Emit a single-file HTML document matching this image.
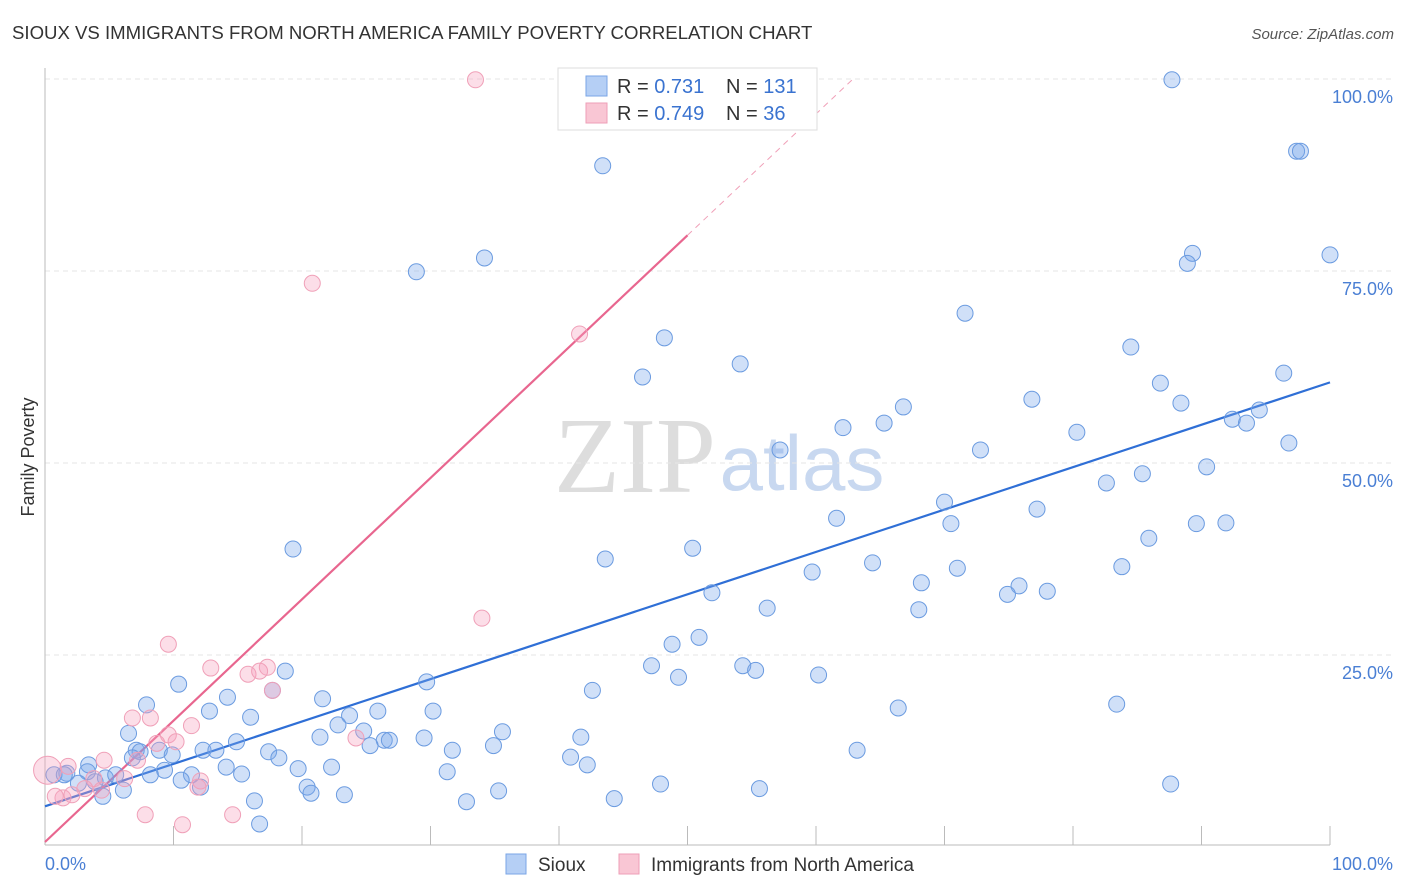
<!DOCTYPE html>
<html><head><meta charset="utf-8"><style>
body{margin:0;background:#fff;font-family:"Liberation Sans",sans-serif;}
svg{display:block}
</style></head><body>
<svg id="chart" width="1406" height="892">
<text x="12" y="39" font-size="18.6" fill="#333">SIOUX VS IMMIGRANTS FROM NORTH AMERICA FAMILY POVERTY CORRELATION CHART</text>
<text x="1394" y="39" font-size="15" fill="#555" font-style="italic" text-anchor="end">Source: ZipAtlas.com</text>
<g>
<text x="635" y="492" font-size="108" fill="#ddd" font-family="Liberation Serif,serif" text-anchor="middle">ZIP</text>
<text x="802" y="490" font-size="78" fill="#c8d8f0" text-anchor="middle">atlas</text>
</g>
<g id="grid"></g><g id="axes"></g><g id="trend"></g><g id="pts"></g>
<text transform="translate(34,457) rotate(-90)" font-size="18" fill="#333" text-anchor="middle">Family Poverty</text>
<text x="45" y="870" font-size="18" fill="#4a7fd4">0.0%</text>
<text x="1393" y="870" font-size="18" fill="#4a7fd4" text-anchor="end">100.0%</text>
<g>
<rect x="558" y="68" width="259" height="62" fill="#fff" stroke="#ddd"/>
<rect x="586" y="76" width="21" height="20" fill="#b5cff5" stroke="#7aa5e6"/>
<rect x="586" y="103" width="21" height="20" fill="#f9c6d4" stroke="#ee9fb7"/>
<text x="617" y="93" font-size="20" fill="#333">R = <tspan fill="#3a73d0">0.731</tspan></text>
<text x="726" y="93" font-size="20" fill="#333">N = <tspan fill="#3a73d0">131</tspan></text>
<text x="617" y="120" font-size="20" fill="#333">R = <tspan fill="#3a73d0">0.749</tspan></text>
<text x="726" y="120" font-size="20" fill="#333">N = <tspan fill="#3a73d0"> 36</tspan></text>
</g>
<g>
<rect x="506" y="854" width="20" height="20" fill="#b5cff5" stroke="#7aa5e6"/>
<text x="538" y="871" font-size="19" fill="#333">Sioux</text>
<rect x="619" y="854" width="20" height="20" fill="#f9c6d4" stroke="#ee9fb7"/>
<text x="651" y="871" font-size="19" fill="#333">Immigrants from North America</text>
</g>
</svg>
<script>
const blueX=[87.7,43.4,97.4,97.7,100,89.3,88.9,34.2,28.9,71.6,48.2,54.1,46.5,84.5,86.8,96.4,88.4,76.8,66.8,65.3,62.1,80.3,94.5,92.4,93.5,96.8,57.2,72.8,90.4,85.4,82.6,70.0,77.2,61.6,70.5,89.6,91.9,85.9,19.3,50.4,43.6,83.8,64.4,71.0,59.7,68.2,75.8,74.9,78.0,51.9,56.2,68.0,50.9,48.8,47.2,54.3,55.3,49.3,60.2,18.7,10.4,29.7,42.6,17.7,14.2,21.6,7.9,12.8,83.4,66.4,16.0,30.2,25.9,23.7,22.8,24.8,35.6,6.5,21.4,14.9,41.7,26.4,26.8,29.5,25.3,34.9,7.1,12.3,13.3,8.9,7.4,17.4,18.2,9.9,31.7,63.2,40.9,6.8,3.4,1.7,3.3,4.7,0.7,1.5,14.1,19.7,22.3,42.2,5.5,11.4,9.3,8.2,15.3,31.3,2.6,10.6,3.9,12.1,20.4,6.1,20.7,35.3,47.9,87.6,55.6,4.5,23.3,16.3,32.8,44.3,16.7];
const blueY=[99.9,88.7,90.6,90.6,77.1,77.3,76.0,76.7,74.9,69.5,66.3,62.9,61.2,65.1,60.4,61.7,57.8,58.3,57.3,55.2,54.6,54.0,56.9,55.7,55.2,52.6,51.7,51.7,49.5,48.6,47.4,44.9,44.0,42.8,42.1,42.1,42.2,40.2,38.8,38.9,37.5,36.5,37.0,36.3,35.8,34.4,34.0,32.9,33.3,33.1,31.1,30.9,27.3,26.4,23.6,23.6,23.0,22.1,22.4,22.9,21.2,21.5,20.4,20.4,19.5,19.3,18.5,17.7,18.6,18.1,16.9,17.7,17.7,17.1,15.9,15.1,15.0,14.8,14.3,13.7,14.3,13.9,13.9,14.2,13.2,13.2,12.6,12.6,12.6,12.6,12.4,12.4,11.6,12.0,12.6,12.6,11.7,11.6,10.7,9.6,9.8,9.0,9.4,9.4,10.4,10.2,10.4,10.7,9.4,9.4,10.0,9.4,9.5,9.8,8.3,8.7,8.5,7.8,7.8,7.4,7.0,7.3,8.2,8.2,7.6,6.6,6.8,6.0,5.9,6.3,3.0];
const pinkX=[33.5,20.8,41.6,34.0,9.6,12.9,17.3,15.8,16.7,17.7,8.2,6.8,11.4,9.6,10.2,24.2,8.7,4.6,7.2,1.8,3.8,6.2,12.1,11.9,3.1,4.4,1.4,2.1,0.8,7.8,14.6,10.7,0.2];
const pinkY=[99.9,73.4,66.8,29.8,26.4,23.3,23.4,22.5,22.9,20.4,16.8,16.8,15.8,14.6,13.7,14.2,13.5,11.3,11.3,10.5,8.9,8.9,8.6,7.8,7.6,7.4,6.4,6.8,6.6,4.2,4.2,2.9,10.0];
const yTicks=[25,50,75,100];
const yTickLabels=["25.0%","50.0%","75.0%","100.0%"];
const xTicks=[0,10,20,30,40,50,60,70,80,90,100];
const blueFit=[5.3,0.552], pinkFit=[0.65,1.58];
const NS="http://www.w3.org/2000/svg";
const sx=v=>45+v*12.85, sy=v=>847-v*7.68;
function mk(t,a,p){const e=document.createElementNS(NS,t);for(const k in a)e.setAttribute(k,a[k]);p.appendChild(e);return e;}
const grid=document.getElementById('grid'),axes=document.getElementById('axes'),trend=document.getElementById('trend'),pts=document.getElementById('pts');
yTicks.forEach((t,i)=>{
 const l=mk('line',{x1:45,x2:1393,y1:sy(t),y2:sy(t),stroke:'#e6e6e6','stroke-width':1,'stroke-dasharray':'5,4'},grid);
 
 
 const tx=mk('text',{x:1393,y:sy(t)+24,'font-size':18,fill:'#4a7fd4','text-anchor':'end'},grid);
 tx.textContent=yTickLabels[i];
 
 
});
const ya=mk('line',{x1:45,x2:45,y1:68,y2:845,stroke:'#bbb'},axes);


const xa=mk('line',{x1:45,x2:1330,y1:845,y2:845,stroke:'#bbb'},axes);


xTicks.forEach(t=>{
 const l=mk('line',{x1:sx(t),x2:sx(t),y1:826,y2:845,stroke:'#bbb'},axes);
 
 
});
function line(fit,x0,x1,col,dash,name){
 const l=mk('line',{x1:sx(x0),y1:sy(fit[0]+fit[1]*x0),x2:sx(x1),y2:sy(fit[0]+fit[1]*x1),stroke:col,'stroke-width':dash?1:2.2,'stroke-dasharray':dash?'6,5':'none'},trend);
 
 
}
line(blueFit,0,100,'#2f6fd6',false,'sioux-trend-line');
line(pinkFit,0,50,'#e8668f',false,'immigrants-trend-line');
line(pinkFit,50,(100-pinkFit[0])/pinkFit[1],'#f0a0b8',true,'immigrants-trend-extension');
blueX.forEach((x,i)=>{
 const c=mk('circle',{cx:sx(x),cy:sy(blueY[i]),r:8,fill:'rgba(120,165,235,0.35)',stroke:'#6b9be0','stroke-width':1},pts);
 
 
});
pinkX.forEach((x,i)=>{
 const c=mk('circle',{cx:sx(x),cy:sy(pinkY[i]),r:i==pinkX.length-1?14:8,fill:'rgba(245,160,190,0.35)',stroke:'#f0a0b8','stroke-width':1},pts);
 
 
});
</script>
</body></html>
